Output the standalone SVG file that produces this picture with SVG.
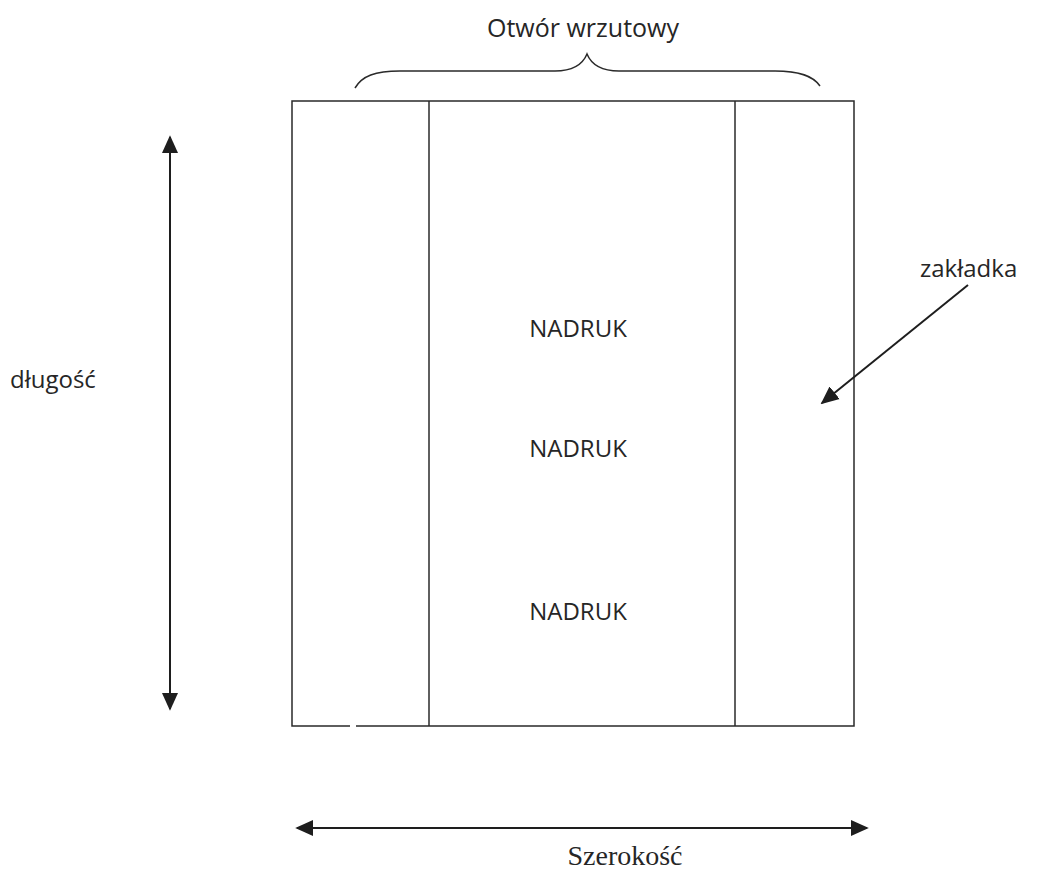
<svg xmlns="http://www.w3.org/2000/svg" width="1042" height="870" viewBox="0 0 1042 870">
<style>
.ln{stroke:#2a2a2a;stroke-width:1.5;fill:none}
.ar{stroke:#1e1e1e;stroke-width:2;fill:none}
.sans{font-family:"Open Sans","Noto Sans","Liberation Sans",sans-serif;fill:#262626}
.serif{font-family:"Liberation Serif","DejaVu Serif",serif;fill:#262626}
</style>
<defs>
<marker id="ah2" viewBox="0 0 10 10" refX="9" refY="5" markerWidth="18" markerHeight="18" markerUnits="userSpaceOnUse" orient="auto-start-reverse">
<path d="M0,0.5 L10,5 L0,9.5 z" fill="#1e1e1e"/>
</marker>
</defs>
<rect width="1042" height="870" fill="#fff"/>
<g id="sheet">
<path class="ln" d="M292,101 H854 V726 H292 Z"/>
<line x1="350" y1="726" x2="356" y2="726" stroke="#fff" stroke-width="3"/>
<line class="ln" x1="429" y1="101" x2="429" y2="726"/>
<line class="ln" x1="735" y1="101" x2="735" y2="726"/>
<text class="sans" x="578" y="337" font-size="24" text-anchor="middle">NADRUK</text>
<text class="sans" x="578" y="457" font-size="24" text-anchor="middle">NADRUK</text>
<text class="sans" x="578" y="620" font-size="24" text-anchor="middle">NADRUK</text>
</g>
<g id="brace">
<path class="ln" d="M355,88 C362,76 375,71 400,71 H555 C572,71 582,66 587,54 C592,66 602,71 619,71 H775 C800,71 813,76 820,86"/>
<text class="sans" x="583" y="37" font-size="25" text-anchor="middle">Otwór wrzutowy</text>
</g>
<g id="labels">
<text class="sans" x="10" y="388" font-size="24">długość</text>
<text class="sans" x="920" y="277" font-size="24">zakładka</text>
<text class="serif" x="625" y="865" font-size="28" text-anchor="middle">Szerokość</text>
</g>
<g id="connectors">
<line class="ar" x1="170" y1="137" x2="170" y2="709" marker-start="url(#ah2)" marker-end="url(#ah2)"/>
<line class="ar" x1="297" y1="828" x2="867" y2="828" marker-start="url(#ah2)" marker-end="url(#ah2)"/>
<line class="ar" x1="968" y1="285" x2="822" y2="403" marker-end="url(#ah2)"/>
</g>
</svg>
